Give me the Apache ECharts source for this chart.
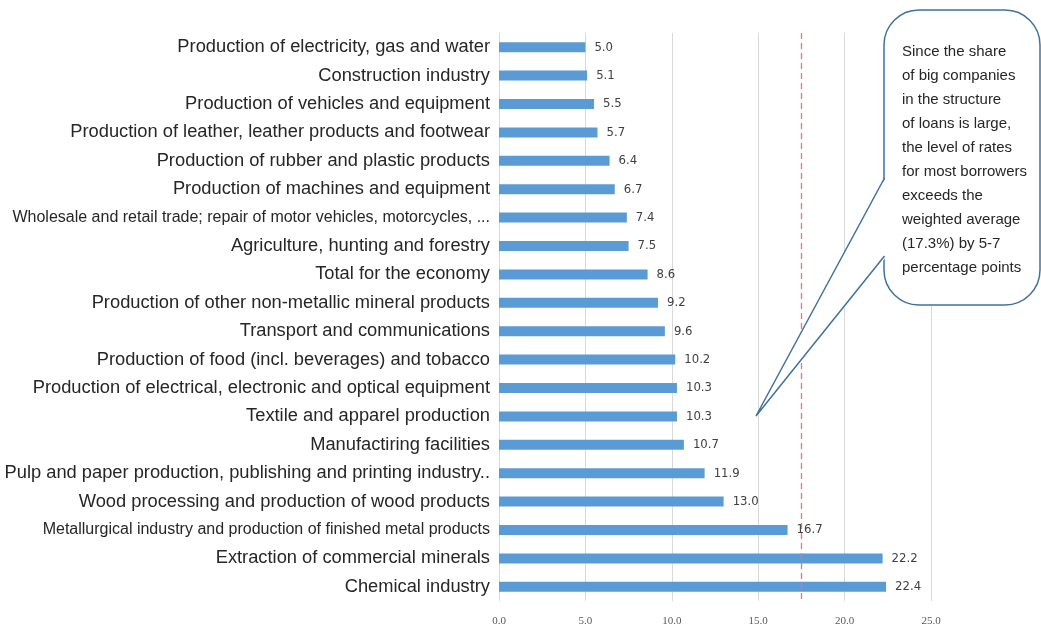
<!DOCTYPE html>
<html>
<head>
<meta charset="utf-8">
<script src="https://cdn.jsdelivr.net/npm/echarts@6/dist/echarts.min.js"></script>
<style>html,body{margin:0;padding:0;background:#fff;}#c{width:1041px;height:632px;}</style>
</head>
<body>
<div id="c"></div>
<script>
const categories = [
  "Production of electricity, gas and water",
  "Construction industry",
  "Production of vehicles and equipment",
  "Production of leather, leather products and footwear",
  "Production of rubber and plastic products",
  "Production of machines and equipment",
  "Wholesale and retail trade; repair of motor vehicles, motorcycles, ...",
  "Agriculture, hunting and forestry",
  "Total for the economy",
  "Production of other non-metallic mineral products",
  "Transport and communications",
  "Production of food (incl. beverages) and tobacco",
  "Production of electrical, electronic and optical equipment",
  "Textile and apparel production",
  "Manufactiring facilities",
  "Pulp and paper production, publishing and printing industry..",
  "Wood processing and production of wood products",
  "Metallurgical industry and production of finished metal products",
  "Extraction of commercial minerals",
  "Chemical industry"
];
const values = [5.0, 5.1, 5.5, 5.7, 6.4, 6.7, 7.4, 7.5, 8.6, 9.2, 9.6, 10.2, 10.3, 10.3, 10.7, 11.9, 13.0, 16.7, 22.2, 22.4];
const xTicks = [0, 5, 10, 15, 20, 25];
const refLine = 17.5;
const calloutText = "Since the share\nof big companies\nin the structure\nof loans is large,\nthe level of rates\nfor most borrowers\nexceeds the\nweighted average\n(17.3%) by 5-7\npercentage points";

const smallLabels = {
  "Wholesale and retail trade; repair of motor vehicles, motorcycles, ...": 'w',
  "Metallurgical industry and production of finished metal products": 'm'
};

const chart = echarts.init(document.getElementById('c'));
chart.setOption({
  animation: false,
  grid: { left: 499, right: 110, top: 33, bottom: 31, containLabel: false },
  xAxis: {
    type: 'value', min: xTicks[0], max: xTicks[xTicks.length - 1], interval: 5,
    axisLine: { show: false }, axisTick: { show: false },
    splitLine: { show: true, lineStyle: { color: '#d9d9d9', width: 1 } },
    axisLabel: { formatter: v => v.toFixed(1), fontFamily: 'Liberation Serif', fontSize: 11, color: '#595959', margin: 15 }
  },
  yAxis: {
    type: 'category', data: categories, inverse: true,
    axisLine: { show: false }, axisTick: { show: false },
    axisLabel: {
      margin: 9,
      formatter: v => smallLabels[v] ? '{' + smallLabels[v] + '|' + v + '}' : '{n|' + v + '}',
      rich: {
        n: { fontFamily: 'Liberation Sans', fontSize: 18.3, color: '#262626' },
        w: { fontFamily: 'Liberation Sans', fontSize: 16, color: '#262626' },
        m: { fontFamily: 'Liberation Sans', fontSize: 16, color: '#262626' }
      }
    }
  },
  series: [{
    type: 'bar', data: values, barWidth: 10,
    itemStyle: { color: '#5b9bd5' },
    label: { show: true, position: 'right', distance: 9, formatter: p => p.value.toFixed(1),
      fontFamily: '"DejaVu Sans Condensed", "Liberation Sans", sans-serif', fontSize: 13, color: '#404040' },
    markLine: {
      silent: true, symbol: 'none', label: { show: false },
      lineStyle: { color: '#e8737a', type: [6, 4], width: 1.3 },
      data: [{ xAxis: refLine }]
    }
  }],
  graphic: [
    {
      type: 'rect', z: 10,
      shape: { x: 884, y: 10, width: 156, height: 295, r: 35 },
      style: { fill: '#fff', stroke: '#41719c', lineWidth: 1.5 }
    },
    {
      type: 'polygon', z: 11,
      shape: { points: [[886, 177], [756, 416], [886, 257]] },
      style: { fill: '#fff', stroke: null }
    },
    {
      type: 'polyline', z: 12,
      shape: { points: [[884.5, 178], [756, 416], [884.5, 256]] },
      style: { fill: null, stroke: '#41719c', lineWidth: 1.5 }
    },
    {
      type: 'text', z: 13, left: 902, top: 40,
      style: { text: calloutText, fontFamily: 'Liberation Sans', fontSize: 15, lineHeight: 24, fill: '#262626' }
    }
  ]
});
</script>
</body>
</html>
